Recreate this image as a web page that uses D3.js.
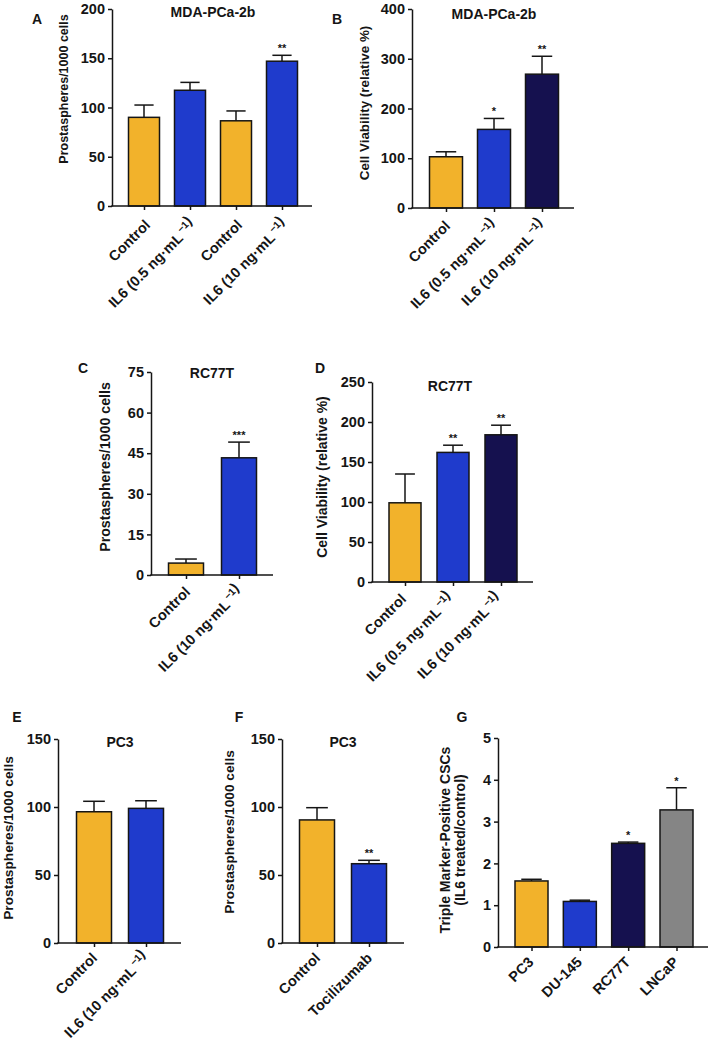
<!DOCTYPE html>
<html>
<head>
<meta charset="utf-8">
<script src="https://cdn.jsdelivr.net/npm/d3@7"></script>
<style>
  body { margin: 0; background: #fff; }
  svg text { font-family: "Liberation Sans", Arial, sans-serif; font-weight: bold; fill: #151515; }
</style>
</head>
<body>
<svg id="fig" width="709" height="1040"></svg>
<script>
// ---- data ----
const catsA = ["Control", "IL6 (0.5 ng·mL^{−1})", "Control", "IL6 (10 ng·mL^{−1})"];
const valsA = [90, 117.5, 86.5, 147];
const errsA = [12.5, 8, 10, 6];
const starsA = ["", "", "", "**"];
const ticksA = [0, 50, 100, 150, 200];

const catsB = ["Control", "IL6 (0.5 ng·mL^{−1})", "IL6 (10 ng·mL^{−1})"];
const valsB = [103, 158, 269];
const errsB = [10, 22, 36];
const starsB = ["", "*", "**"];
const ticksB = [0, 100, 200, 300, 400];

const catsC = ["Control", "IL6 (10 ng·mL^{−1})"];
const valsC = [4.4, 43.3];
const errsC = [1.5, 5.8];
const starsC = ["", "***"];
const ticksC = [0, 15, 30, 45, 60, 75];

const catsD = ["Control", "IL6 (0.5 ng·mL^{−1})", "IL6 (10 ng·mL^{−1})"];
const valsD = [99, 162, 184];
const errsD = [36, 9, 12];
const starsD = ["", "**", "**"];
const ticksD = [0, 50, 100, 150, 200, 250];

const catsE = ["Control", "IL6 (10 ng·mL^{−1})"];
const valsE = [96.5, 99];
const errsE = [7.7, 5.6];
const starsE = ["", ""];
const ticksE = [0, 50, 100, 150];

const catsF = ["Control", "Tocilizumab"];
const valsF = [90.5, 58.3];
const errsF = [9, 2.5];
const starsF = ["", "**"];
const ticksF = [0, 50, 100, 150];

const catsG = ["PC3", "DU-145", "RC77T", "LNCaP"];
const valsG = [1.58, 1.09, 2.48, 3.28];
const errsG = [0.04, 0.03, 0.03, 0.53];
const starsG = ["", "", "*", "*"];
const ticksG = [0, 1, 2, 3, 4, 5];

// ---- colours ----
const ORANGE = "#f2b22b", BLUE = "#1f3bcc", NAVY = "#15114f", GREY = "#858585";

const svg = d3.select("#fig");

// writes "text^{sup}rest" as tspans
function richText(sel, str) {
  const parts = str.split(/\^\{(.*?)\}/);
  parts.forEach((t, k) => {
    if (!t) return;
    if (k % 2 === 1) {
      sel.append("tspan").attr("dx", 2).attr("dy", -6).style("font-size", "0.7em").text(t);
      sel.append("tspan").attr("dy", 6).text("");
    } else {
      sel.append("tspan").text(t);
    }
  });
}

function drawPanel(p) {
  const g = svg.append("g");
  const y = d3.scaleLinear().domain([0, d3.max(p.ticks)]).range([p.y0, p.yTop]);
  const x = d3.scalePoint().domain(d3.range(p.cats.length)).range([p.c0, p.c1]);
  const capW = p.bw * 0.62;

  // bars
  g.selectAll("rect.bar").data(p.vals).join("rect")
    .attr("class", "bar")
    .attr("x", (d, i) => x(i) - p.bw / 2)
    .attr("y", d => y(d))
    .attr("width", p.bw)
    .attr("height", d => p.y0 - y(d))
    .attr("fill", (d, i) => p.fills[i])
    .attr("stroke", "#151515")
    .attr("stroke-width", 1.5);

  // error bars (upper only)
  p.vals.forEach((v, i) => {
    const top = y(v + p.errs[i]);
    g.append("line").attr("x1", x(i)).attr("x2", x(i)).attr("y1", y(v)).attr("y2", top)
      .attr("stroke", "#151515").attr("stroke-width", 1.5);
    g.append("line").attr("x1", x(i) - capW / 2).attr("x2", x(i) + capW / 2).attr("y1", top).attr("y2", top)
      .attr("stroke", "#151515").attr("stroke-width", 1.5);
    if (p.stars[i]) {
      g.append("text").attr("x", x(i)).attr("y", top - 3)
        .attr("text-anchor", "middle").style("font-size", "11px").text(p.stars[i]);
    }
  });

  // y axis
  const ya = g.append("g").attr("transform", `translate(${p.ax},0)`)
    .call(d3.axisLeft(y).tickValues(p.ticks).tickFormat(d3.format("d"))
      .tickSize(4).tickSizeOuter(0).tickPadding(3));
  ya.selectAll("path, line").attr("stroke", "#151515").attr("stroke-width", 1.5);
  ya.selectAll("text").style("font-size", "14.5px").style("font-family", null).attr("fill", null);

  // x axis
  g.append("line").attr("x1", p.ax - 0.75).attr("x2", p.xEnd).attr("y1", p.y0).attr("y2", p.y0)
    .attr("stroke", "#151515").attr("stroke-width", 1.5);
  const xa = g.append("g").attr("transform", `translate(0,${p.y0})`)
    .call(d3.axisBottom(x).tickSize(4).tickFormat(""));
  xa.select(".domain").remove();
  xa.selectAll("line").attr("stroke", "#151515").attr("stroke-width", 1.5);

  g.selectAll("text.xl").data(p.cats).join("text")
    .attr("class", "xl")
    .attr("transform", (d, i) => `translate(${x(i) + p.lx},${p.y0 + p.ly}) rotate(-45)`)
    .attr("text-anchor", "end")
    .style("font-size", "14.5px")
    .each(function (d) { richText(d3.select(this), d); });

  // title
  if (p.title) {
    g.append("text").attr("x", p.titleX).attr("y", p.titleY)
      .attr("text-anchor", "middle").style("font-size", "14px").text(p.title);
  }
  // panel letter
  g.append("text").attr("x", p.letterX).attr("y", p.letterY)
    .attr("text-anchor", "middle").style("font-size", "14px").text(p.letter);

  // y label (one or two lines)
  p.ylabel.forEach((lab, k) => {
    g.append("text")
      .attr("transform", `translate(${p.ylx[k]},${p.yly}) rotate(-90)`)
      .attr("text-anchor", "middle").attr("dy", "0.35em")
      .style("font-size", p.ylfs + "px").text(lab);
  });
}

const PROS = "Prostaspheres/1000 cells";
const VIAB = "Cell Viability (relative %)";

drawPanel({ cats: catsA, vals: valsA, errs: errsA, stars: starsA, ticks: ticksA,
  fills: [ORANGE, BLUE, ORANGE, BLUE],
  ax: 112, y0: 206, yTop: 9, xEnd: 312, c0: 144, c1: 282, bw: 31, lx: 7, ly: 20,
  title: "MDA-PCa-2b", titleX: 213, titleY: 17, letter: "A", letterX: 37, letterY: 24,
  ylabel: [PROS], ylx: [64], yly: 89, ylfs: 12.5 });

drawPanel({ cats: catsB, vals: valsB, errs: errsB, stars: starsB, ticks: ticksB,
  fills: [ORANGE, BLUE, NAVY],
  ax: 412, y0: 208, yTop: 9, xEnd: 574, c0: 446, c1: 542, bw: 33, lx: 5, ly: 19,
  title: "MDA-PCa-2b", titleX: 494, titleY: 19, letter: "B", letterX: 337, letterY: 24,
  ylabel: [VIAB], ylx: [364], yly: 103, ylfs: 13.4 });

drawPanel({ cats: catsC, vals: valsC, errs: errsC, stars: starsC, ticks: ticksC,
  fills: [ORANGE, BLUE],
  ax: 151, y0: 575, yTop: 372, xEnd: 273, c0: 186, c1: 239, bw: 35, lx: 5, ly: 18,
  title: "RC77T", titleX: 212, titleY: 378, letter: "C", letterX: 83, letterY: 373,
  ylabel: [PROS], ylx: [105], yly: 467, ylfs: 14.2 });

drawPanel({ cats: catsD, vals: valsD, errs: errsD, stars: starsD, ticks: ticksD,
  fills: [ORANGE, BLUE, NAVY],
  ax: 372, y0: 582, yTop: 382, xEnd: 533, c0: 405, c1: 501, bw: 32, lx: 2, ly: 18,
  title: "RC77T", titleX: 450, titleY: 391, letter: "D", letterX: 320, letterY: 373,
  ylabel: [VIAB], ylx: [322], yly: 477, ylfs: 14 });

drawPanel({ cats: catsE, vals: valsE, errs: errsE, stars: starsE, ticks: ticksE,
  fills: [ORANGE, BLUE],
  ax: 58, y0: 943, yTop: 739, xEnd: 181, c0: 94, c1: 146, bw: 35, lx: 4, ly: 16,
  title: "PC3", titleX: 120, titleY: 747, letter: "E", letterX: 17, letterY: 722,
  ylabel: [PROS], ylx: [8], yly: 838, ylfs: 13.7 });

drawPanel({ cats: catsF, vals: valsF, errs: errsF, stars: starsF, ticks: ticksF,
  fills: [ORANGE, BLUE],
  ax: 282, y0: 943, yTop: 739, xEnd: 404, c0: 317, c1: 369, bw: 35, lx: 4, ly: 16,
  title: "PC3", titleX: 343, titleY: 747, letter: "F", letterX: 239, letterY: 722,
  ylabel: [PROS], ylx: [229], yly: 832, ylfs: 13.7 });

drawPanel({ cats: catsG, vals: valsG, errs: errsG, stars: starsG, ticks: ticksG,
  fills: [ORANGE, BLUE, NAVY, GREY],
  ax: 498, y0: 947, yTop: 738, xEnd: 708, c0: 531.5, c1: 676.5, bw: 33, lx: 3, ly: 16,
  title: null, letter: "G", letterX: 462, letterY: 722,
  ylabel: ["Triple Marker-Positive CSCs", "(IL6 treated/control)"], ylx: [445, 460], yly: 840, ylfs: 14 });
</script>
</body>
</html>
